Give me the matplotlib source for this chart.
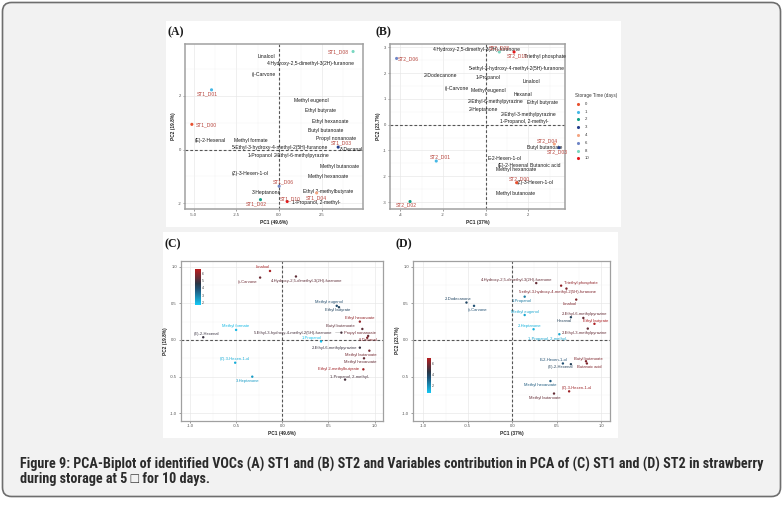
import os
import matplotlib
matplotlib.use('Agg')
import matplotlib.pyplot as plt
import matplotlib.font_manager as fm
from matplotlib.patches import FancyBboxPatch, Rectangle
from matplotlib.colors import LinearSegmentedColormap, Normalize
import matplotlib.colorbar as mcolorbar
from matplotlib.ticker import MultipleLocator, FuncFormatter

# ------------------------------------------------------------------ data
days = [0, 1, 2, 3, 4, 6, 8, 10]
day_colors = ['#e8512f', '#45b8e6', '#12a088', '#253f8c', '#f4a582', '#6f86c6', '#7ad7c1', '#e3191c']

st1_samples = ['ST1_D00', 'ST1_D01', 'ST1_D02', 'ST1_D03', 'ST1_D04', 'ST1_D06', 'ST1_D08', 'ST1_D10']
st1_days = [0, 1, 2, 3, 4, 6, 8, 10]
st1_pc1 = [-5.1, -3.95, -1.09, 3.45, 2.19, 0.0, 4.32, 0.47]
st1_pc2 = [0.94, 2.23, -1.87, 0.09, -1.62, -1.37, 3.66, -1.94]

st1_vars = ['Linalool', '4-Hydroxy-2,5-dimethyl-3(2H)-furanone', '()-Carvone', 'Methyl eugenol',
            'Ethyl butyrate', 'Ethyl hexanoate', 'Butyl butanoate', 'Propyl nonanoate',
            '(E)-2-Hexenal', 'Methyl formate', '5-Ethyl-3-hydroxy-4-methyl-2(5H)-furanone',
            'δ-Decanal', '1-Propanol', '2-Ethyl-6-methylpyrazine', 'Methyl butanoate',
            '(Z)-3-Hexen-1-ol', 'Methyl hexanoate', '3-Heptanone', 'Ethyl 2-methylbutyrate',
            '1-Propanol, 2-methyl-']
st1_var_pc1 = [-0.72, 1.84, -0.91, 1.9, 2.44, 2.97, 2.71, 3.31, -4.0, -1.65, 0.06,
               4.23, -1.1, 1.32, 3.55, -1.72, 2.89, -0.76, 2.87, 2.19]
st1_var_pc2 = [3.46, 3.2, 2.8, 1.82, 1.46, 1.06, 0.71, 0.4, 0.34, 0.34, 0.06,
               0.0, -0.22, -0.22, -0.63, -0.91, -1.02, -1.59, -1.55, -1.99]

st2_samples = ['ST2_D00', 'ST2_D01', 'ST2_D02', 'ST2_D03', 'ST2_D04', 'ST2_D06', 'ST2_D08', 'ST2_D10']
st2_days = [0, 1, 2, 3, 4, 6, 8, 10]
st2_pc1 = [1.45, -2.32, -3.55, 3.44, 3.22, -4.18, 0.64, 1.33]
st2_pc2 = [-2.25, -1.41, -2.98, -0.89, -0.75, 2.57, 2.82, 2.82]

st2_vars = ['4-Hydroxy-2,5-dimethyl-3(2H)-furanone', 'Triethyl phosphate',
            '5-ethyl-3-hydroxy-4-methyl-2(5H)-furanone', '2-Dodecanone', '1-Propanol', 'Linalool',
            '()-Carvone', 'Methyl eugenol', 'Hexanal', '2-Ethyl-6-methylpyrazine', 'Ethyl butyrate',
            '2-Heptanone', '2-Ethyl-3-methylpyrazine', '1-Propanol, 2-methyl-', 'E-2-Hexen-1-ol',
            'Butyl butanoate', '(E)-2-Hexenal', 'Butanoic acid', 'Methyl hexanoate',
            '(Z)-3-Hexen-1-ol', 'Methyl butanoate']
st2_var_pc1 = [-0.42, 2.78, 1.45, -2.1, 0.09, 2.16, -1.36, 0.12, 1.77, 0.48, 2.68,
               -0.11, 2.03, 1.8, 0.87, 2.78, 1.31, 2.78, 1.41, 2.3, 1.41]
st2_var_pc2 = [2.92, 2.66, 2.19, 1.89, 1.82, 1.67, 1.41, 1.31, 1.19, 0.89, 0.87,
               0.6, 0.39, 0.13, -1.3, -0.89, -1.59, -1.59, -1.73, -2.23, -2.66]

c_vars = ['Linalool', '()-Carvone', '4-Hydroxy-2,5-dimethyl-3(2H)-furanone', 'Methyl eugenol',
          'Ethyl butyrate', 'Ethyl hexanoate', 'Butyl butanoate', 'Propyl nonanoate', 'δ-Decanal',
          'Methyl formate', '(E)-2-Hexenal', '5-Ethyl-3-hydroxy-4-methyl-2(5H)-furanone',
          '1-Propanol', '2-Ethyl-6-methylpyrazine', 'Methyl butanoate', 'Methyl hexanoate',
          'Ethyl 2-methylbutyrate', '1-Propanol, 2-methyl-', '(Z)-3-Hexen-1-ol', '3-Heptanone']
c_dim1 = [-0.133, -0.24, 0.148, 0.59, 0.614, 0.84, 0.867, 0.93, 0.92, -0.5, -0.856, 0.64,
          0.42, 0.84, 0.943, 0.885, 0.878, 0.68, -0.51, -0.325]
c_dim2 = [0.94, 0.85, 0.865, 0.465, 0.446, 0.25, 0.15, 0.055, 0.03, 0.137, 0.037, 0.10,
          -0.02, -0.105, -0.146, -0.25, -0.4, -0.54, -0.31, -0.5]
c_contrib = [6.3, 5.5, 5.3, 4.0, 4.2, 6.0, 5.3, 5.5, 5.8, 2.0, 4.8, 5.0,
             1.8, 4.8, 5.6, 5.4, 6.2, 5.0, 2.2, 2.5]

d_vars = ['4-Hydroxy-2,5-dimethyl-3(2H)-furanone', 'Triethyl phosphate',
          '5-ethyl-3-hydroxy-4-methyl-2(5H)-furanone', '2-Dodecanone', '()-Carvone', '1-Propanol',
          'Linalool', 'Methyl eugenol', '2-Ethyl-6-methylpyrazine', 'Hexanal', 'Ethyl butyrate',
          '2-Heptanone', '2-Ethyl-3-methylpyrazine', '1-Propanol, 2-methyl-', 'Butyl butanoate',
          'Butanoic acid', 'E-2-Hexen-1-ol', '(E)-2-Hexenal', 'Methyl hexanoate',
          '(Z)-3-Hexen-1-ol', 'Methyl butanoate']
d_dim1 = [0.27, 0.55, 0.61, -0.515, -0.43, 0.14, 0.72, 0.14, 0.80, 0.66, 0.925, 0.24, 0.85,
          0.53, 0.83, 0.84, 0.57, 0.66, 0.43, 0.64, 0.47]
d_dim2 = [0.775, 0.74, 0.70, 0.51, 0.465, 0.59, 0.55, 0.34, 0.30, 0.31, 0.22, 0.146, 0.155,
          0.078, -0.29, -0.32, -0.32, -0.33, -0.56, -0.70, -0.73]
d_contrib = [5.5, 6.3, 6.0, 3.8, 3.5, 2.5, 6.0, 1.5, 5.5, 4.0, 6.8, 1.2, 5.5,
             1.5, 6.0, 6.0, 3.5, 4.0, 3.2, 6.5, 5.5]

caption1 = ('Figure 9: PCA-Biplot of identified VOCs (A) ST1 and (B) ST2 and Variables contribution '
            'in PCA of (C) ST1 and (D) ST2 in strawberry')
caption2 = 'during storage at 5 \u25a1 for 10 days.'

# ------------------------------------------------------------------ layout (label offsets in pixels)
st1_sample_off = [(14, 0), (-4, -4), (-4, -4), (3, 4), (0, -5), (4, 4), (-15, 0), (3, 3)]
st2_sample_off = [(3, 3.5), (4, 4), (-4, -3.5), (-2, -4), (-7, 3), (12, 0), (0, 4), (3, -4)]
c_off = [(-7, 4), (-13, -4), (11, -5), (-8, 4), (-1, -3), (0, 4), (-22, 3), (-8, 3), (1, -2),
         (0, 4), (3, 3), (-48, 0), (-9, 3), (-25, 0), (-9, -4), (-4, -4), (-25, 0), (5, 3),
         (0, 3.5), (-5, -4)]
d_off = [(-20, 3), (20, 3), (-9, -3), (-8, 4), (4, -4), (-3, -4), (-7, -4), (0, 3), (1, 4),
         (-7, -3.5), (1, 3), (-4, 3), (-3, -4), (-12, -5), (2, 2), (2, -3.5), (-9, 3), (-10, -3),
         (-10, -3.5), (8, 3), (-9, -4.5)]

W, H = 784, 505
plt.rcParams['font.family'] = ['Liberation Sans', 'DejaVu Sans']


def pick_condensed():
    """Find an installed narrow / condensed sans family for the caption."""
    best = None
    for f in fm.fontManager.ttflist:
        nm = f.name.lower()
        fn = os.path.basename(f.fname).lower()
        if 'mono' in nm or 'serif' in nm or 'cjk' in nm:
            continue
        narrow = ('narrow' in nm or 'condensed' in nm or 'narrow' in fn or 'condensed' in fn
                  or str(f.stretch) in ('condensed', 'semi-condensed', 'extra-condensed'))
        if not narrow:
            continue
        score = 0
        if 'liberation' in nm:
            score += 10
        if 'roboto' in nm:
            score += 6
        if 'dejavu' in nm:
            score += 4
        if best is None or score > best[0]:
            best = (score, f.name, f.stretch)
    if best is None:
        return 'Liberation Sans', 'normal'
    st = best[2]
    if 'narrow' in best[1].lower() or 'condensed' in best[1].lower():
        st = 'normal'
    return best[1], st


cap_name, cap_stretch = pick_condensed()


def rect(l, t, r, b):
    return [l / W, 1 - b / H, (r - l) / W, (b - t) / H]


fig = plt.figure(figsize=(W / 100, H / 100), dpi=100, facecolor='white')

bg = fig.add_axes([0, 0, 1, 1])
bg.set_xlim(0, W)
bg.set_ylim(H, 0)
bg.axis('off')
bg.add_patch(FancyBboxPatch((2.5, 2.5), 778, 494, boxstyle='round,pad=0,rounding_size=9',
                            facecolor='#f2f2f2', edgecolor='#6e6e6e', lw=1.2))
bg.add_patch(Rectangle((166, 21), 455, 206, facecolor='white', edgecolor='none'))
bg.add_patch(Rectangle((163, 232), 455, 206, facecolor='white', edgecolor='none'))
cap_fam = [cap_name, 'Liberation Sans', 'DejaVu Sans']
t1 = bg.text(20, 464, caption1, fontsize=9.6, weight='bold', family=cap_fam, stretch=cap_stretch,
             color='#2b2b2b', va='center', ha='left')
t2 = bg.text(20, 479.5, caption2, fontsize=9.6, weight='bold', family=cap_fam, stretch=cap_stretch,
             color='#2b2b2b', va='center', ha='left')

for lab, (x, y) in zip(['(A)', '(B)', '(C)', '(D)'], [(168, 32.5), (376, 32.5), (165, 244), (396, 244)]):
    bg.text(x, y, lab, fontsize=8.5, weight='bold', family=['Liberation Serif', 'DejaVu Serif'],
            color='#1a1a1a', va='center', ha='left')


def style_ax(ax, xlim, ylim, xmaj, ymaj, xfmt, yfmt, xlabel, ylabel, edge_lw=0.9):
    ax.set_xlim(*xlim)
    ax.set_ylim(*ylim)
    ax.xaxis.set_major_locator(MultipleLocator(xmaj))
    ax.yaxis.set_major_locator(MultipleLocator(ymaj))
    ax.xaxis.set_minor_locator(MultipleLocator(xmaj / 2))
    ax.yaxis.set_minor_locator(MultipleLocator(ymaj / 2))
    ax.xaxis.set_major_formatter(xfmt)
    ax.yaxis.set_major_formatter(yfmt)
    ax.grid(True, which='major', color='#e6e6e6', lw=0.45)
    ax.grid(True, which='minor', color='#f2f2f2', lw=0.3)
    ax.set_axisbelow(True)
    for s in ax.spines.values():
        s.set_color('#a0a0a0')
        s.set_linewidth(edge_lw)
    ax.tick_params(which='major', length=1.5, width=0.4, color='#555555', labelsize=3,
                   labelcolor='#4d4d4d', pad=1.2)
    ax.tick_params(which='minor', length=0)
    ax.axhline(0, color='#555555', lw=0.8, ls=(0, (2.5, 1.8)), zorder=1)
    ax.axvline(0, color='#555555', lw=0.8, ls=(0, (2.5, 1.8)), zorder=1)
    ax.set_xlabel(xlabel, fontsize=3.4, weight='bold', color='#222222', labelpad=2)
    ax.set_ylabel(ylabel, fontsize=3.4, weight='bold', color='#222222', labelpad=1.5)


fmt1 = lambda v, p: f'{v:.1f}'
fmt0 = lambda v, p: f'{v:.0f}'

sample_col = '#b8473f'
day_map = dict(zip(days, day_colors))

# ---------------- Panel A
axA = fig.add_axes(rect(185, 44, 363, 209))
style_ax(axA, (-5.5, 4.9), (-2.22, 3.94), 2.5, 2, FuncFormatter(fmt1), FuncFormatter(fmt0),
         'PC1 (49.6%)', 'PC2 (19.8%)', 1.1)
axA.yaxis.set_minor_locator(MultipleLocator(1))
for n, x, y in zip(st1_vars, st1_var_pc1, st1_var_pc2):
    axA.text(x, y, n, fontsize=3.6, color='#1a1a1a', ha='center', va='center', zorder=3)
axA.scatter(st1_pc1, st1_pc2, s=5, c=[day_map[d] for d in st1_days], zorder=4, linewidths=0)
for n, x, y, (dx, dy) in zip(st1_samples, st1_pc1, st1_pc2, st1_sample_off):
    axA.annotate(n, (x, y), xytext=(dx, dy), textcoords='offset pixels', fontsize=3.6,
                 color=sample_col, ha='center', va='center', zorder=5)

# ---------------- Panel B
axB = fig.add_axes(rect(390, 44, 565, 209))
style_ax(axB, (-4.49, 3.72), (-3.27, 3.13), 2, 1, FuncFormatter(fmt0), FuncFormatter(fmt0),
         'PC1 (37%)', 'PC2 (23.7%)', 1.1)
axB.yaxis.set_minor_locator(MultipleLocator(0.5))
for n, x, y in zip(st2_vars, st2_var_pc1, st2_var_pc2):
    axB.text(x, y, n, fontsize=3.6, color='#1a1a1a', ha='center', va='center', zorder=3)
axB.scatter(st2_pc1, st2_pc2, s=5, c=[day_map[d] for d in st2_days], zorder=4, linewidths=0)
for n, x, y, (dx, dy) in zip(st2_samples, st2_pc1, st2_pc2, st2_sample_off):
    axB.annotate(n, (x, y), xytext=(dx, dy), textcoords='offset pixels', fontsize=3.6,
                 color=sample_col, ha='center', va='center', zorder=5)

# legend for storage time
axL = fig.add_axes(rect(572, 88, 621, 162))
axL.set_xlim(572, 621)
axL.set_ylim(162, 88)
axL.axis('off')
axL.text(575, 95, 'Storage Time (days)', fontsize=3.3, color='#333333', ha='left', va='center')
for i, (d, c) in enumerate(zip(days, day_colors)):
    yy = 104 + i * 7.75
    axL.scatter([578.5], [yy], s=5, c=[c], linewidths=0)
    axL.text(584.5, yy, str(d), fontsize=3.1, color='#333333', ha='left', va='center')

# ---------------- contribution colormap
cmap = LinearSegmentedColormap.from_list('contrib', [(0.0, '#15c9f6'), (0.45, '#1f4f72'),
                                                      (0.6, '#2a3645'), (1.0, '#b81d1f')])


def contrib_panel(rect_px, vars_, d1, d2, contrib, offs, norm, xlabel, ylabel, cbar_rect,
                  cbar_ticks, title_xy, segments=()):
    ax = fig.add_axes(rect(*rect_px))
    style_ax(ax, (-1.12, 1.1), (-1.1, 1.08), 0.5, 0.5, FuncFormatter(fmt1), FuncFormatter(fmt1),
             xlabel, ylabel, 0.9)
    cols = [cmap(norm(v)) for v in contrib]
    ax.scatter(d1, d2, s=3, c=cols, zorder=4, linewidths=0)
    for n, x, y, (dx, dy), c in zip(vars_, d1, d2, offs, cols):
        kw = {}
        if n in segments:
            kw['arrowprops'] = dict(arrowstyle='-', color='#a0a0a0', lw=0.3, shrinkA=0, shrinkB=1)
        ax.annotate(n, (x, y), xytext=(dx, dy), textcoords='offset pixels', fontsize=3.0,
                    color=c, ha='center', va='center', zorder=5, **kw)
    cax = fig.add_axes(rect(*cbar_rect))
    cb = mcolorbar.ColorbarBase(cax, cmap=cmap, norm=norm, orientation='vertical', ticks=cbar_ticks)
    cb.outline.set_visible(False)
    cax.tick_params(length=0, labelsize=2.6, labelcolor='#444444', pad=1)
    bg.text(title_xy[0], title_xy[1], 'Contribution (%)', fontsize=2.9, color='#333333',
            ha='left', va='center')
    return ax


axC = contrib_panel((180.7, 260.7, 383.3, 420.7), c_vars, c_dim1, c_dim2, c_contrib, c_off,
                    Normalize(1.69, 6.54), 'PC1 (49.6%)', 'PC2 (19.8%)', (195, 269.3, 200.7, 305),
                    [2, 3, 4, 5, 6], (195, 264.3),
                    segments=('5-Ethyl-3-hydroxy-4-methyl-2(5H)-furanone',))
axC.set_xlim(-1.1, 1.094)

axD = contrib_panel((412.7, 260.7, 610, 420.7), d_vars, d_dim1, d_dim2, d_contrib, d_off,
                    Normalize(0.64, 7.0), 'PC1 (37%)', 'PC2 (23.7%)', (427.3, 357.7, 430.7, 393.3),
                    [2, 4, 6], (427.5, 354))

# fit caption to the reference line width (~743 px)
fig.canvas.draw()
rend = fig.canvas.get_renderer()
w1 = t1.get_window_extent(rend).width
if w1 > 0:
    new_size = 9.6 * 743.0 / w1
    t1.set_fontsize(new_size)
    t2.set_fontsize(new_size)

fig.savefig('out.png', dpi=100, facecolor='white')
